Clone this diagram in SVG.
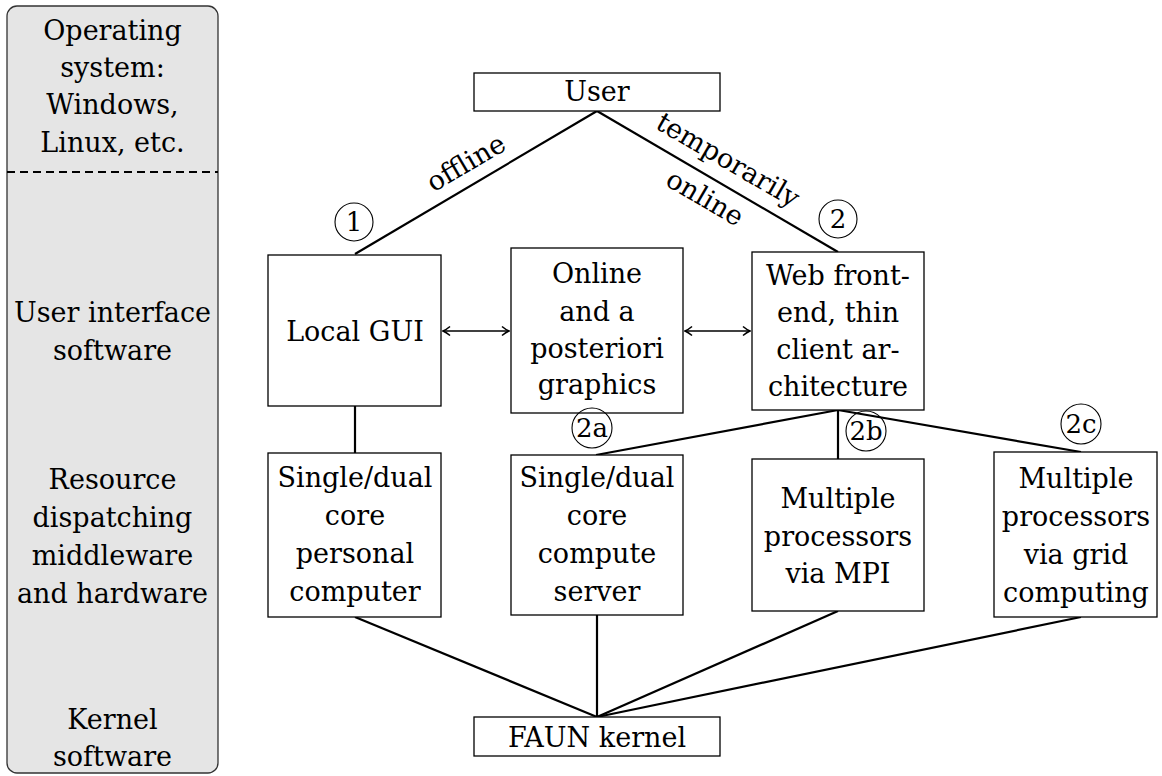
<svg xmlns="http://www.w3.org/2000/svg" width="1162" height="776" viewBox="0 0 1162 776" font-family="'DejaVu Serif', serif">
<defs>
<style>
text{font-family:'DejaVu Serif',serif;font-size:27px;fill:#000;text-anchor:middle}
.box{fill:#fff;stroke:#000;stroke-width:1.3}
.edge{stroke:#000;stroke-width:2.2;fill:none}
.circ{fill:none;stroke:#000;stroke-width:1.1}
.num{font-size:26px}
</style>
<marker id="arr" viewBox="-9 -6 10 12" refX="0" refY="0" markerWidth="10" markerHeight="12" markerUnits="userSpaceOnUse" orient="auto-start-reverse">
<path d="M -7 -4.5 C -4 -2 -1.5 -0.6 0 0 C -1.5 0.6 -4 2 -7 4.5" fill="none" stroke="#000" stroke-width="1.6"/>
</marker>
</defs>
<rect width="1162" height="776" fill="#fff"/>
<g id="layers">
<rect x="7" y="6" width="211" height="767" rx="10" ry="10" fill="#e5e5e5" stroke="#333" stroke-width="1.3"/>
<line x1="7" y1="172" x2="218" y2="172" stroke="#000" stroke-width="2.2" stroke-dasharray="8,5"/>
<text x="112.5" y="40">Operating</text>
<text x="112.5" y="77">system:</text>
<text x="112.5" y="114">Windows,</text>
<text x="112.5" y="152">Linux, etc.</text>
<text x="112.5" y="322">User interface</text>
<text x="112.5" y="360">software</text>
<text x="112.5" y="489">Resource</text>
<text x="112.5" y="527">dispatching</text>
<text x="112.5" y="565">middleware</text>
<text x="112.5" y="603">and hardware</text>
<text x="112.5" y="729">Kernel</text>
<text x="112.5" y="766">software</text>
</g>
<g id="connectors">
<line class="edge" x1="597" y1="111" x2="355" y2="254"/>
<line class="edge" x1="597" y1="111" x2="838" y2="252"/>
<line class="edge" x1="355" y1="406" x2="355" y2="453"/>
<line class="edge" x1="443" y1="331" x2="509" y2="331" marker-start="url(#arr)" marker-end="url(#arr)" style="stroke-width:1.7"/>
<line class="edge" x1="685" y1="331" x2="750" y2="331" marker-start="url(#arr)" marker-end="url(#arr)" style="stroke-width:1.7"/>
<line class="edge" x1="838" y1="410" x2="596" y2="455"/>
<line class="edge" x1="838" y1="410" x2="838" y2="459"/>
<line class="edge" x1="838" y1="410" x2="1081" y2="452"/>
<line class="edge" x1="355" y1="617" x2="597" y2="717"/>
<line class="edge" x1="597" y1="615" x2="597" y2="717"/>
<line class="edge" x1="838" y1="611" x2="597" y2="717"/>
<line class="edge" x1="1081" y1="617" x2="597" y2="717"/>
<text transform="translate(466,163) rotate(-30.4)" y="9">offline</text>
<text transform="translate(728,160) rotate(30.2)" y="9">temporarily</text>
<text transform="translate(705,198) rotate(30.2)" y="9">online</text>
</g>
<g id="user">
<rect class="box" x="474" y="73" width="246" height="38"/>
<text x="597" y="101">User</text>
</g>
<g id="localgui">
<rect class="box" x="268" y="255" width="173" height="151"/>
<text x="355" y="341">Local GUI</text>
</g>
<g id="graphics">
<rect class="box" x="511" y="248" width="172" height="165"/>
<text x="597" y="283">Online</text>
<text x="597" y="321">and a</text>
<text x="597" y="358">posteriori</text>
<text x="597" y="394">graphics</text>
</g>
<g id="web">
<rect class="box" x="752" y="252" width="172" height="158"/>
<text x="838" y="285">Web front-</text>
<text x="838" y="322">end, thin</text>
<text x="838" y="359">client ar-</text>
<text x="838" y="396">chitecture</text>
</g>
<g id="pc">
<rect class="box" x="268" y="453" width="173" height="164"/>
<text x="355" y="487">Single/dual</text>
<text x="355" y="525">core</text>
<text x="355" y="563">personal</text>
<text x="355" y="601">computer</text>
</g>
<g id="server">
<rect class="box" x="511" y="455" width="172" height="160"/>
<text x="597" y="487">Single/dual</text>
<text x="597" y="525">core</text>
<text x="597" y="563">compute</text>
<text x="597" y="601">server</text>
</g>
<g id="mpi">
<rect class="box" x="752" y="459" width="172" height="152"/>
<text x="838" y="508">Multiple</text>
<text x="838" y="546">processors</text>
<text x="838" y="583">via MPI</text>
</g>
<g id="grid">
<rect class="box" x="994" y="452" width="163" height="165"/>
<text x="1076" y="488">Multiple</text>
<text x="1076" y="526">processors</text>
<text x="1076" y="564">via grid</text>
<text x="1076" y="602">computing</text>
</g>
<g id="faun">
<rect class="box" x="474" y="717" width="246" height="39"/>
<text x="597" y="747">FAUN kernel</text>
</g>
<g id="markers">
<circle class="circ" cx="354" cy="222" r="19"/>
<text class="num" x="354" y="231">1</text>
<circle class="circ" cx="838" cy="219" r="19"/>
<text class="num" x="838" y="228">2</text>
<circle class="circ" cx="592" cy="428" r="20"/>
<text class="num" x="592" y="437">2a</text>
<circle class="circ" cx="866" cy="431" r="20"/>
<text class="num" x="866" y="440">2b</text>
<circle class="circ" cx="1081" cy="424" r="20"/>
<text class="num" x="1081" y="433">2c</text>
</g>
</svg>
